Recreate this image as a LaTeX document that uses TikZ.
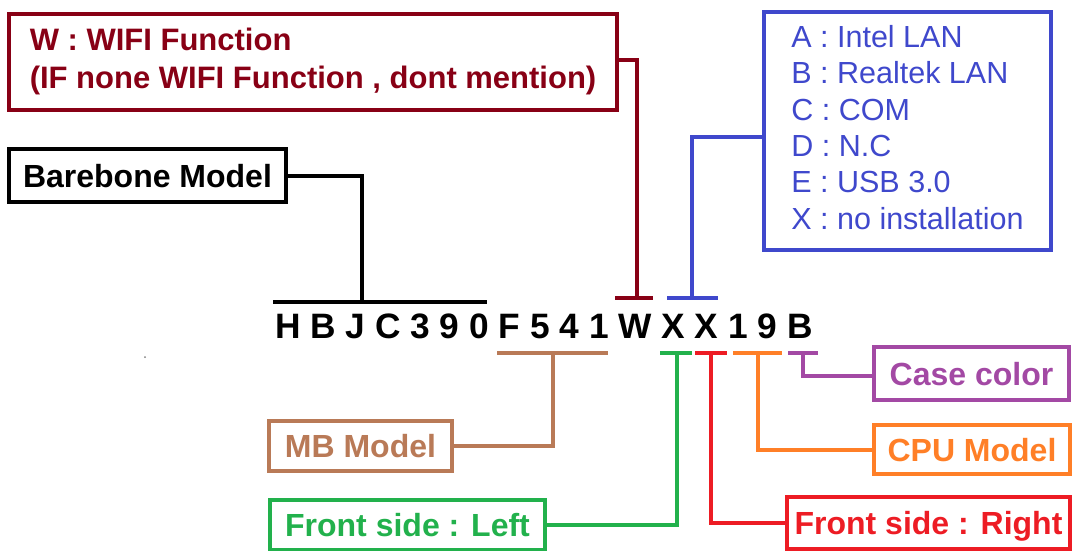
\documentclass[tikz,border=0pt]{standalone}
\usepackage{fontspec}
\setmainfont{Liberation Sans}
\definecolor{pdarkred}{HTML}{880015}
\definecolor{pindigo}{HTML}{3F48CC}
\definecolor{pbrown}{HTML}{B97A57}
\definecolor{pgreen}{HTML}{22B14C}
\definecolor{pred}{HTML}{ED1C24}
\definecolor{porange}{HTML}{FF7F27}
\definecolor{ppurple}{HTML}{A349A4}
\begin{document}
\begin{tikzpicture}[x=1pt,y=-1pt,
  boxbase/.style={draw, line width=4pt, inner sep=0pt},
  labelbox/.style={boxbase, text height=23pt, text depth=0pt,
    font=\fontsize{32}{38}\selectfont\bfseries},
  conn/.style={line width=4pt},
]
\useasboundingbox (0,0) rectangle (1073,550);

% part number
\node[font=\fontsize{35.3}{40}\selectfont\bfseries, inner sep=0pt, anchor=base]
  (code) at (544,338) {H B J C 3 9 0 F 5 4 1 W X X 1 9 B};

% boxes
\node[boxbase, draw=pdarkred, text=pdarkred, minimum width=608pt, minimum height=96pt,
  font=\fontsize{31}{38}\selectfont\bfseries] (wifi) at (313,62)
  {\begin{tabular}{@{}l@{}}W : WIFI Function\\(IF none WIFI Function , dont mention)\end{tabular}\hspace{6pt}};
\node[labelbox, draw=black, text=black, minimum width=277pt, minimum height=53pt]
  (bare) at (147.5,175.5) {Barebone Model};
\node[boxbase, draw=pindigo, text=pindigo, minimum width=287pt, minimum height=238pt,
  font=\fontsize{30.5}{36.4}\selectfont] (lan) at (907.5,131)
  {\begin{tabular}{@{}l@{}}A : Intel LAN\\B : Realtek LAN\\C : COM\\D : N.C\\E : USB 3.0\\X : no installation\end{tabular}\hspace{20pt}};
\node[labelbox, draw=pbrown, text=pbrown, minimum width=183pt, minimum height=50pt]
  (mb) at (360.5,446) {MB Model};
\node[labelbox, draw=pgreen, text=pgreen, minimum width=275pt, minimum height=50pt]
  (left) at (407.5,525) {Front side : Left};
\node[labelbox, draw=pred, text=pred, minimum width=283pt, minimum height=52pt]
  (right) at (928.5,523) {Front side : Right};
\node[labelbox, draw=porange, text=porange, minimum width=196pt, minimum height=49pt]
  (cpu) at (972,449.5) {CPU Model};
\node[labelbox, draw=ppurple, text=ppurple, minimum width=195pt, minimum height=53pt]
  (case) at (971.5,373.5) {Case color};

% bar coordinates
\coordinate (bkL) at (273,302); \coordinate (bkR) at (487,302); \coordinate (bkM) at (362,302);
\coordinate (drL) at (615,298); \coordinate (drR) at (653,298); \coordinate (drM) at (637,298);
\coordinate (blL) at (667,298); \coordinate (blR) at (718,298); \coordinate (blM) at (692,298);
\coordinate (brL) at (497,353); \coordinate (brR) at (608,353); \coordinate (brM) at (553,353);
\coordinate (gnL) at (660,353); \coordinate (gnR) at (692,353); \coordinate (gnM) at (677,353);
\coordinate (rdL) at (695,353); \coordinate (rdR) at (727,353); \coordinate (rdM) at (711,353);
\coordinate (orL) at (733,353); \coordinate (orR) at (782,353); \coordinate (orM) at (758,353);
\coordinate (ppL) at (788,353); \coordinate (ppR) at (818,353); \coordinate (ppM) at (803,353);

% connectors
\draw[conn, black] (bkL) -- (bkR);
\draw[conn, black] (bkM) |- (bare.east);
\draw[conn, pdarkred] (drL) -- (drR);
\draw[conn, pdarkred] (drM) |- ([yshift=2pt]wifi.east);
\draw[conn, pindigo] (blL) -- (blR);
\draw[conn, pindigo] (blM) |- ([yshift=-6pt]lan.west);
\draw[conn, pbrown] (brL) -- (brR);
\draw[conn, pbrown] (brM) |- (mb.east);
\draw[conn, pgreen] (gnL) -- (gnR);
\draw[conn, pgreen] (gnM) |- (left.east);
\draw[conn, pred] (rdL) -- (rdR);
\draw[conn, pred] (rdM) |- (right.west);
\draw[conn, porange] (orL) -- (orR);
\draw[conn, porange] (orM) |- (cpu.west);
\draw[conn, ppurple] (ppL) -- (ppR);
\draw[conn, ppurple] (ppM) |- ([yshift=-2.5pt]case.west);

% stray dot
\fill[gray] (145,357) circle (1pt);
\end{tikzpicture}
\end{document}
